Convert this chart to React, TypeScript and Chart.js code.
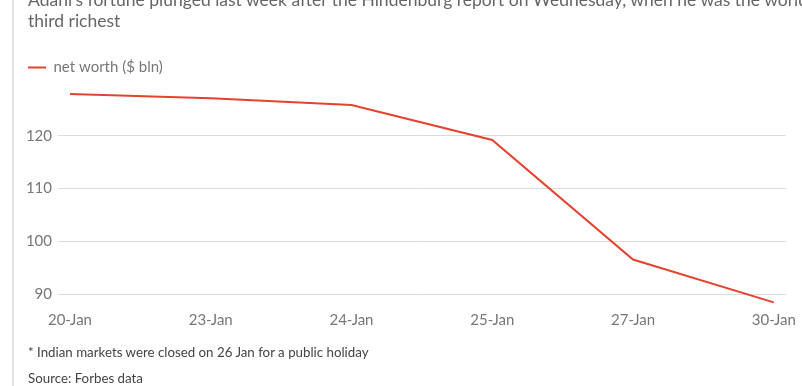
import React, { useEffect, useRef } from "react";
import { Chart, registerables } from "chart.js";

Chart.register(...registerables);

const categories = ["20-Jan", "23-Jan", "24-Jan", "25-Jan", "27-Jan", "30-Jan"];
const netWorth = [127.9, 127.1, 125.8, 119.2, 96.6, 88.5];
const yTicks = [90, 100, 110, 120];
const seriesLabel = "net worth ($ bln)";
const titleLine1 =
  "Adani's fortune plunged last week after the Hindenburg report on Wednesday, when he was the world's";
const titleLine2 = "third richest";
const footnote = "* Indian markets were closed on 26 Jan for a public holiday";
const source = "Source: Forbes data";

const FONT = "Lato, 'Noto Sans', sans-serif";
const RED = "#e5432f";

export default function App() {
  const ref = useRef<HTMLCanvasElement | null>(null);

  useEffect(() => {
    document.body.style.margin = "0";
    if (!ref.current) return;
    const chart = new Chart(ref.current, {
      type: "line",
      data: {
        datasets: [
          {
            label: seriesLabel,
            data: netWorth.map((v, i) => ({ x: i, y: v })),
            borderColor: RED,
            backgroundColor: RED,
            borderWidth: 2,
            pointRadius: 0,
            tension: 0,
          },
        ],
      },
      options: {
        animation: false,
        responsive: false,
        layout: { padding: { left: 17, right: 14, top: 49, bottom: 51 } },
        plugins: {
          legend: {
            position: "top",
            align: "start",
            labels: {
              usePointStyle: true,
              pointStyle: "line",
              pointStyleWidth: 18,
              boxHeight: 15,
              padding: 11,
              color: "#777",
              font: { family: FONT, size: 15 },
            },
          },
          tooltip: { enabled: false },
        },
        scales: {
          x: {
            type: "linear",
            min: -0.085,
            max: 5.085,
            grid: { display: false, drawTicks: false },
            border: { display: false },
            afterBuildTicks: (axis: any) => {
              axis.ticks = categories.map((_, i) => ({ value: i }));
            },
            ticks: {
              autoSkip: false,
              maxRotation: 0,
              padding: 6,
              color: "#777",
              font: { family: FONT, size: 15 },
              callback: (v: any) => categories[Number(v)] ?? "",
            },
          },
          y: {
            min: 88,
            max: 129.6,
            grid: { color: "#dcdcdc", lineWidth: 1, drawTicks: false },
            border: { display: false },
            afterBuildTicks: (axis: any) => {
              axis.ticks = yTicks.map((v) => ({ value: v }));
            },
            afterFit: (axis: any) => {
              axis.width = 41;
            },
            ticks: {
              padding: 6,
              color: "#777",
              font: { family: FONT, size: 15 },
            },
          },
        },
      },
    });
    return () => chart.destroy();
  }, []);

  return (
    <div
      style={{
        position: "fixed",
        left: 0,
        top: 0,
        width: 802,
        height: 386,
        overflow: "hidden",
        background: "#fff",
        fontFamily: FONT,
      }}
    >
      <div style={{ position: "absolute", left: 12, top: 0, width: 2, height: 386, background: "#e3e3e3" }} />
      <canvas ref={ref} width={802} height={386} style={{ position: "absolute", left: 0, top: 0 }} />
      <div
        style={{
          position: "absolute",
          left: 28,
          top: -11,
          fontSize: 17.5,
          lineHeight: "21px",
          color: "#666",
          whiteSpace: "nowrap",
        }}
      >
        <div>{titleLine1}</div>
        <div>{titleLine2}</div>
      </div>
      <div
        style={{
          position: "absolute",
          left: 28,
          top: 343,
          fontSize: 13.3,
          color: "#444",
          whiteSpace: "nowrap",
        }}
      >
        <div style={{ lineHeight: "18px" }}>{footnote}</div>
        <div style={{ lineHeight: "18px", marginTop: 8 }}>{source}</div>
      </div>
    </div>
  );
}
